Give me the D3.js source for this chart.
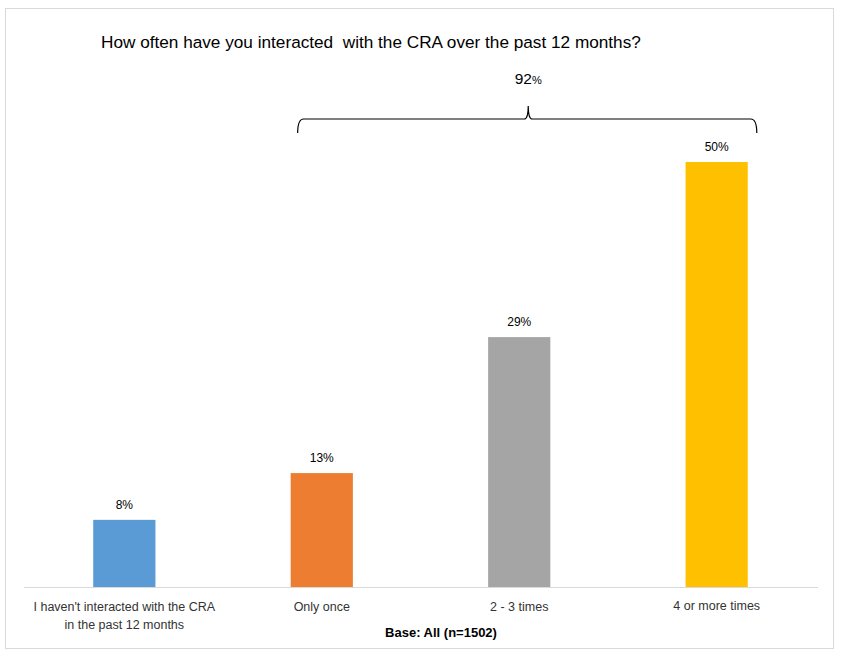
<!doctype html>
<html>
<head>
<meta charset="utf-8">
<script src="https://cdnjs.cloudflare.com/ajax/libs/d3/7.8.5/d3.min.js"></script>
<style>
  body { margin: 0; background: #fff; }
  text { font-family: "Liberation Sans Narrow", "Liberation Sans", Arial, sans-serif; }
</style>
</head>
<body>
<script>
// chart data
const categories = ["I haven't interacted with the CRA|in the past 12 months", "Only once", "2 - 3 times", "4 or more times"];
const values = [7.9, 13.4, 29.4, 50.0];
const colors = ["#5b9bd5", "#ed7d31", "#a5a5a5", "#ffc000"];
const title = "How often have you interacted  with the CRA over the past 12 months?";
const bracketLabel = "92";
const baseNote = "Base: All (n=1502)";

const W = 842, H = 657;
const svg = d3.select("body").append("svg").attr("width", W).attr("height", H);

// outer frame
svg.append("rect").attr("x", 5.5).attr("y", 8.5).attr("width", 828).attr("height", 640)
  .attr("fill", "#fff").attr("stroke", "#d9d9d9");

const x = d3.scaleBand().domain(categories).range([25.5, 815.5]).paddingInner(0.685).paddingOuter(0.343);
const baseY = 587;
const y = d3.scaleLinear().domain([0, d3.max(values)]).range([baseY, 162]);

// axis line
svg.append("line").attr("x1", 24).attr("x2", 818).attr("y1", baseY + 0.5).attr("y2", baseY + 0.5)
  .attr("stroke", "#d9d9d9");

svg.selectAll(".bar").data(values).enter().append("rect")
  .attr("x", (d, i) => x(categories[i]))
  .attr("y", d => y(d))
  .attr("width", x.bandwidth())
  .attr("height", d => baseY - y(d))
  .attr("fill", (d, i) => colors[i]);

// value labels
svg.selectAll(".val").data(values).enter().append("text")
  .attr("x", (d, i) => x(categories[i]) + x.bandwidth() / 2)
  .attr("y", d => y(d) - 11)
  .attr("text-anchor", "middle").attr("font-size", 12).attr("fill", "#000")
  .text(d => Math.round(d) + "%");

// category labels
categories.forEach((c, i) => {
  const t = svg.append("text")
    .attr("x", x(c) + x.bandwidth() / 2)
    .attr("y", i === 3 ? 610 : 611)
    .attr("text-anchor", "middle").attr("font-size", 12.5).attr("fill", "#333");
  c.split("|").forEach((line, j) => {
    t.append("tspan").attr("x", x(c) + x.bandwidth() / 2).attr("dy", j ? 18 : 0).text(line);
  });
});

// title (keeps the double space)
svg.append("text").attr("x", 101).attr("y", 48).attr("font-size", 17.2).attr("fill", "#000")
  .style("white-space", "pre")
  .text(title);

// bracket across the three interacted categories
const bx1 = x(categories[1]) + 7, bx2 = x(categories[3]) + x.bandwidth() + 9;
const bmid = (bx1 + bx2) / 2 + 1, by = 119;
svg.append("path")
  .attr("d", `M${bx1},${by + 14} Q${bx1},${by} ${bx1 + 6},${by} L${bmid - 4},${by} Q${bmid},${by} ${bmid},${by - 13} ` +
             `Q${bmid},${by} ${bmid + 4},${by} L${bx2 - 6},${by} Q${bx2},${by} ${bx2},${by + 14}`)
  .attr("fill", "none").attr("stroke", "#000").attr("stroke-width", 1.2);

const lbl = svg.append("text").attr("x", bmid).attr("y", 84).attr("text-anchor", "middle").attr("fill", "#000");
lbl.append("tspan").attr("font-size", 15.5).text(bracketLabel);
lbl.append("tspan").attr("font-size", 11).text("%");

// base note
svg.append("text").attr("x", 441).attr("y", 637).attr("text-anchor", "middle")
  .attr("font-size", 13).attr("font-weight", "bold").attr("fill", "#000").text(baseNote);
</script>
</body>
</html>
